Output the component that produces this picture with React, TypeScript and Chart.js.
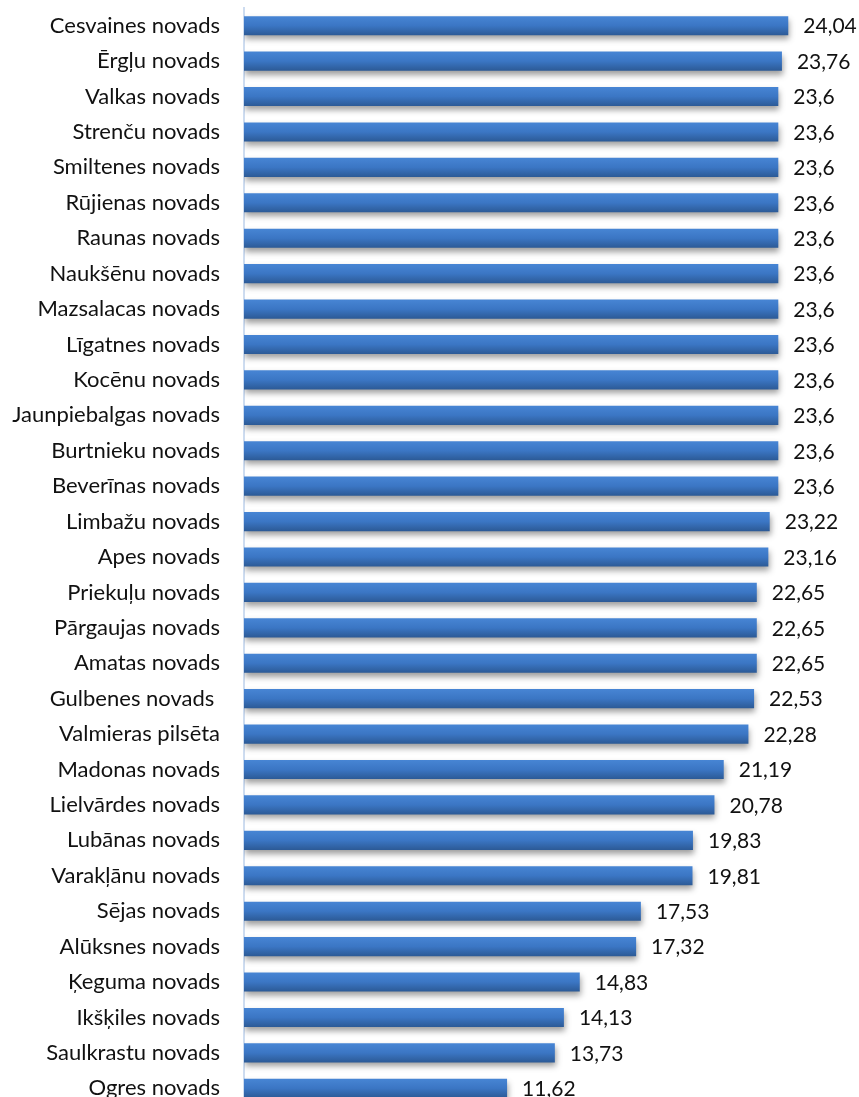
import React, { useEffect, useRef } from "react";
import { Chart, registerables } from "chart.js";

Chart.register(...registerables);

const categories: string[] = [
  "Cesvaines novads", "Ērgļu novads", "Valkas novads", "Strenču novads", "Smiltenes novads",
  "Rūjienas novads", "Raunas novads", "Naukšēnu novads", "Mazsalacas novads", "Līgatnes novads",
  "Kocēnu novads", "Jaunpiebalgas novads", "Burtnieku novads", "Beverīnas novads", "Limbažu novads",
  "Apes novads", "Priekuļu novads", "Pārgaujas novads", "Amatas novads", "Gulbenes novads ",
  "Valmieras pilsēta", "Madonas novads", "Lielvārdes novads", "Lubānas novads", "Varakļānu novads",
  "Sējas novads", "Alūksnes novads", "Ķeguma novads", "Ikšķiles novads", "Saulkrastu novads",
  "Ogres novads",
];

const values: number[] = [
  24.04, 23.76, 23.6, 23.6, 23.6,
  23.6, 23.6, 23.6, 23.6, 23.6,
  23.6, 23.6, 23.6, 23.6, 23.22,
  23.16, 22.65, 22.65, 22.65, 22.53,
  22.28, 21.19, 20.78, 19.83, 19.81,
  17.53, 17.32, 14.83, 14.13, 13.73,
  11.62,
];

const FONT = "Lato, 'Open Sans', sans-serif";

const shadowPlugin = {
  id: "barShadow",
  beforeDatasetDraw(chart: any) {
    const ctx = chart.ctx;
    ctx.save();
    ctx.shadowColor = "rgba(0,0,0,0.38)";
    ctx.shadowBlur = 6;
    ctx.shadowOffsetX = 1;
    ctx.shadowOffsetY = 4;
  },
  afterDatasetDraw(chart: any) {
    chart.ctx.restore();
  },
};

const valueLabelPlugin = {
  id: "valueLabels",
  afterDatasetsDraw(chart: any) {
    const ctx = chart.ctx;
    const meta = chart.getDatasetMeta(0);
    ctx.save();
    ctx.font = `21px ${FONT}`;
    ctx.fillStyle = "#111";
    ctx.textAlign = "left";
    ctx.textBaseline = "middle";
    meta.data.forEach((el: any, i: number) => {
      const txt = String(values[i]).replace(".", ",");
      ctx.fillText(txt, el.x + 15, el.y + 1);
    });
    ctx.restore();
  },
};

export default function App() {
  const ref = useRef<HTMLCanvasElement | null>(null);

  useEffect(() => {
    if (!ref.current) return;
    const chart = new Chart(ref.current, {
      type: "bar",
      data: {
        labels: categories,
        datasets: [
          {
            data: values,
            backgroundColor: (c: any) => {
              const ch = c.chart;
              const ys = ch.scales && ch.scales.y;
              if (!ys || c.dataIndex === undefined) return "#3b76c4";
              const y = ys.getPixelForValue(c.dataIndex);
              if (!isFinite(y)) return "#3b76c4";
              const h = 19;
              const g = ch.ctx.createLinearGradient(0, y - h / 2, 0, y + h / 2);
              g.addColorStop(0, "#4785d4");
              g.addColorStop(0.5, "#3b76c4");
              g.addColorStop(1, "#2c5a96");
              return g;
            },
            borderWidth: 0,
            categoryPercentage: 1,
            barPercentage: 0.54,
          },
        ],
      },
      options: {
        indexAxis: "y",
        animation: false,
        responsive: false,
        maintainAspectRatio: false,
        layout: { padding: { top: 8, right: 49, bottom: 0, left: 0 } },
        plugins: {
          legend: { display: false },
          tooltip: { enabled: false },
        },
        scales: {
          x: {
            display: false,
            min: 0,
            max: 25,
          },
          y: {
            afterFit: (s: any) => {
              s.width = 244;
              s.paddingTop = 0;
              s.paddingBottom = 0;
            },
            grid: { display: true, drawOnChartArea: false, drawTicks: false },
            border: { display: true, color: "#cddcf0", width: 2 },
            ticks: {
              padding: 24,
              color: "#111",
              font: { family: FONT, size: 22 },
              autoSkip: false,
            },
          },
        },
      },
      plugins: [shadowPlugin, valueLabelPlugin],
    } as any);
    return () => chart.destroy();
  }, []);

  return (
    <div
      style={{
        position: "fixed",
        left: 0,
        top: 0,
        width: 859,
        height: 1097,
        overflow: "hidden",
        background: "#fff",
      }}
    >
      <canvas ref={ref} width={859} height={1106} style={{ display: "block" }} />
    </div>
  );
}
